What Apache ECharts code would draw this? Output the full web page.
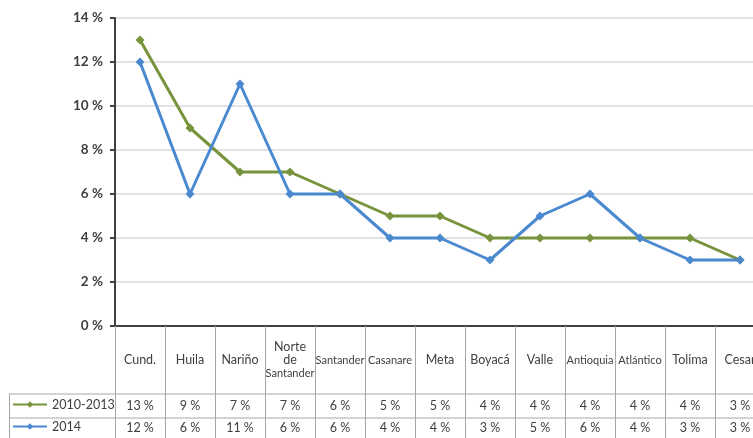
<!DOCTYPE html>
<html>
<head>
<meta charset="utf-8">
<script src="https://cdn.jsdelivr.net/npm/echarts@6/dist/echarts.min.js"></script>
<style>
  html, body { margin: 0; padding: 0; background: #fff; }
  #main { width: 753px; height: 438px; }
</style>
</head>
<body>
<div id="main"></div>
<script>
var categories = ['Cund.', 'Huila', 'Nariño', 'Norte\nde\nSantander', 'Santander', 'Casanare', 'Meta',
                  'Boyacá', 'Valle', 'Antioquia', 'Atlántico', 'Tolima', 'Cesar'];
var seriesNames = ['2010-2013', '2014'];
var values2010 = [13, 9, 7, 7, 6, 5, 5, 4, 4, 4, 4, 4, 3];
var values2014 = [12, 6, 11, 6, 6, 4, 4, 3, 5, 6, 4, 3, 3];

var green = '#77933c', blue = '#4a89d0';
var font = 'Lato';
var txt = '#404040';

var chart = echarts.init(document.getElementById('main'));

// nombres largos en letra chica, como en la tabla original
function catLabel(v) {
  return v.split('\n').map(function (w) {
    return w.length > 7 ? '{s|' + w + '}' : '{n|' + w + '}';
  }).join('\n');
}

function legendRow(name, top) {
  return {
    data: [name],
    left: 12, top: top,
    itemWidth: 34, itemHeight: 8, itemGap: 0, padding: 0,
    textStyle: { fontFamily: font, fontSize: 12.5, color: txt }
  };
}

var option = {
  animation: false,
  grid: { left: 115, top: 18, width: 650, height: 308, outerBoundsMode: 'none' },
  legend: [legendRow(seriesNames[0], 398), legendRow(seriesNames[1], 420)],
  xAxis: [
    {
      type: 'category', data: categories, boundaryGap: true,
      axisLine: { lineStyle: { color: txt, width: 2 } },
      axisTick: { show: true, length: 112, lineStyle: { color: '#a6a6a6' } },
      axisLabel: {
        interval: 0, margin: 34, verticalAlign: 'middle',
        formatter: catLabel,
        rich: {
          n: { fontFamily: font, fontSize: 12.5, color: txt, lineHeight: 13 },
          s: { fontFamily: font, fontSize: 11, color: txt, lineHeight: 13 }
        }
      }
    },
    {
      type: 'category', data: categories, boundaryGap: true, position: 'bottom', offset: 68,
      axisLine: { show: false }, axisTick: { show: false },
      axisLabel: {
        interval: 0, margin: 12, verticalAlign: 'middle',
        fontFamily: font, fontSize: 12.5, color: txt,
        formatter: function (v, i) { return values2010[i] + ' %'; }
      }
    },
    {
      type: 'category', data: categories, boundaryGap: true, position: 'bottom', offset: 92,
      axisLine: { show: false }, axisTick: { show: false },
      axisLabel: {
        interval: 0, margin: 10, verticalAlign: 'middle',
        fontFamily: font, fontSize: 12.5, color: txt,
        formatter: function (v, i) { return values2014[i] + ' %'; }
      }
    }
  ],
  yAxis: {
    type: 'value', min: 0, max: 14, interval: 2,
    axisLine: { show: true, lineStyle: { color: txt, width: 2 } },
    axisTick: { show: true, length: 5, lineStyle: { color: txt, width: 2 } },
    axisLabel: {
      margin: 12, fontFamily: font, fontSize: 13.5, fontWeight: 'bold', color: txt,
      formatter: '{value} %'
    },
    splitLine: { lineStyle: { color: '#d9d9d9', width: 1.5 } }
  },
  series: [
    {
      name: seriesNames[0], type: 'line', data: values2010,
      symbol: 'diamond', symbolSize: 9,
      itemStyle: { color: green },
      lineStyle: { color: green, width: 3 }
    },
    {
      name: seriesNames[1], type: 'line', data: values2014,
      symbol: 'diamond', symbolSize: 9,
      itemStyle: { color: blue },
      lineStyle: { color: blue, width: 3 }
    }
  ],
  // bordes de la tabla de datos
  graphic: [
    { type: 'line', shape: { x1: 9, y1: 394, x2: 753, y2: 394 }, style: { stroke: '#a6a6a6', lineWidth: 1 } },
    { type: 'line', shape: { x1: 9, y1: 418, x2: 753, y2: 418 }, style: { stroke: '#a6a6a6', lineWidth: 1 } },
    { type: 'line', shape: { x1: 9.5, y1: 394, x2: 9.5, y2: 438 }, style: { stroke: '#a6a6a6', lineWidth: 1 } }
  ]
};

chart.setOption(option);
</script>
</body>
</html>
